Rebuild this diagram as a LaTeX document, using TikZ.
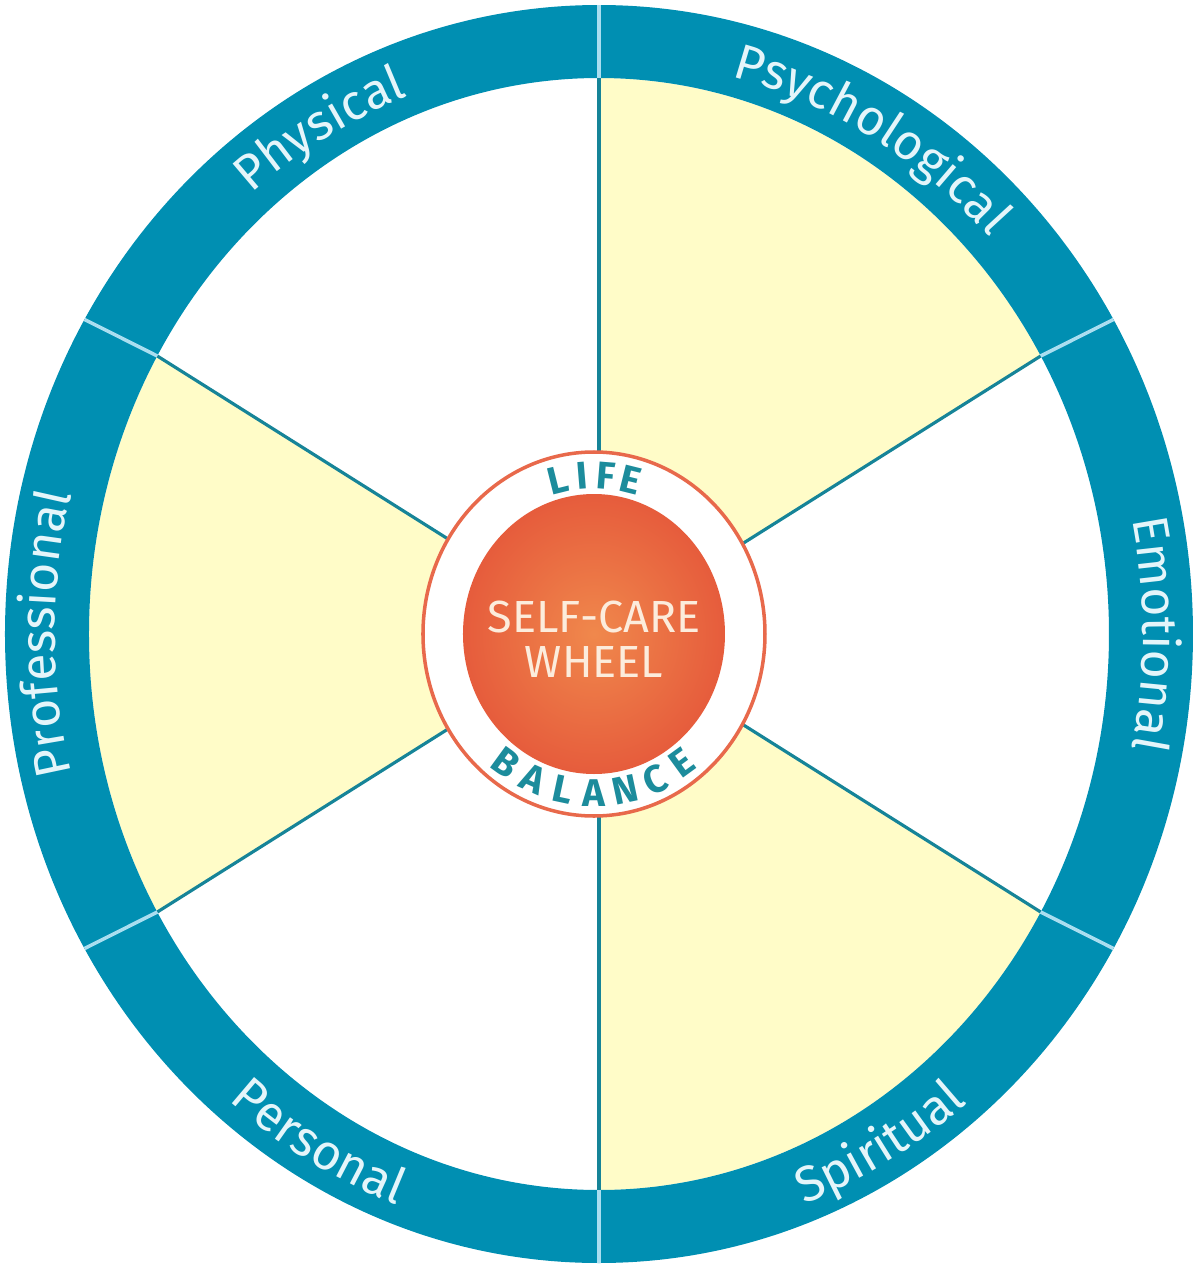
\documentclass[tikz,border=0pt]{standalone}
\usepackage{fontspec}
\setmainfont{Fira Sans}
\usetikzlibrary{decorations.text}

\definecolor{ringblue}{RGB}{0,143,178}
\definecolor{spokeblue}{RGB}{22,132,152}
\definecolor{sepblue}{RGB}{170,222,240}
\definecolor{paleyellow}{RGB}{255,252,200}
\definecolor{labelwhite}{RGB}{228,245,250}
\definecolor{hubred}{RGB}{230,92,60}
\definecolor{hubglow}{RGB}{240,136,76}
\definecolor{hubline}{RGB}{232,105,75}
\definecolor{hubtext}{RGB}{252,236,220}
\definecolor{arcteal}{RGB}{28,140,156}

\newcommand{\ringfont}{\fontsize{14.2pt}{14.2pt}\selectfont}

\begin{document}
\begin{tikzpicture}[
    spoke/.style = {spokeblue, line width=0.9pt},
    gap/.style = {sepblue, line width=1pt},
    ringlabel/.style = {
      decorate,
      decoration = {text along path, text align=center, text color=labelwhite}
    },
    arcletter/.style = {
      text = arcteal,
      font = \fontsize{11pt}{11pt}\selectfont\bfseries,
      inner sep = 0pt
    },
    hubtitle/.style = {
      text = hubtext,
      align = center,
      font = \fontsize{12.8pt}{12.8pt}\selectfont
    }
  ]
  \useasboundingbox (-5.99,-6.32) rectangle (5.97,6.34);
  \coordinate (O) at (0,0);

  % pale sectors
  \foreach \a in {30,150,270}
    \fill[paleyellow] (O) -- (\a:5.10 and 5.56)
      arc[start angle=\a, end angle=\a+60, x radius=5.10, y radius=5.56] -- cycle;

  \foreach \a in {30,90,...,330}
    \draw[spoke] (O) -- (\a:5.10 and 5.56);

  % rim
  \fill[ringblue, even odd rule] (O) ellipse[x radius=5.94, y radius=6.29]
    (O) ellipse[x radius=5.10, y radius=5.56];
  \foreach \a in {30,90,...,330}
    \draw[gap] (\a:5.10 and 5.56) -- (\a:5.94 and 6.29);

  % rim labels
  \path[ringlabel, decoration={text={|\ringfont|Psychological}}]
    (90:5.40 and 5.75) arc[start angle=90, end angle=30, x radius=5.40, y radius=5.75];
  \path[ringlabel, decoration={text={|\ringfont|Physical}}]
    (150:5.40 and 5.75) arc[start angle=150, end angle=90, x radius=5.40, y radius=5.75];
  \path[ringlabel, decoration={text={|\ringfont|Professional}}]
    (210:5.44 and 5.75) arc[start angle=210, end angle=150, x radius=5.44, y radius=5.75];
  \path[ringlabel, decoration={text={|\ringfont|Emotional}}]
    (30:5.44 and 5.75) arc[start angle=30, end angle=-30, x radius=5.44, y radius=5.75];
  \path[ringlabel, decoration={text={|\ringfont|Personal}}]
    (210:5.76 and 6.10) arc[start angle=210, end angle=270, x radius=5.76, y radius=6.10];
  \path[ringlabel, decoration={text={|\ringfont|Spiritual}}]
    (270:5.76 and 6.10) arc[start angle=270, end angle=330, x radius=5.76, y radius=6.10];

  % hub
  \begin{scope}[shift={(-0.05,0)}]
    \draw[hubline, line width=1pt, fill=white] (0,0) ellipse[x radius=1.71, y radius=1.82];
    \shade[inner color=hubglow, outer color=hubred] (0,0) ellipse[x radius=1.31, y radius=1.40];
    \node[hubtitle] (hub) at (0,-0.05) {SELF-CARE\\WHEEL};

    \foreach \ch [count=\i, evaluate=\i as \ang using 113.33-9.33*\i] in {L,I,F,E}
      \node[arcletter, rotate=\ang-90] (life\i) at (\ang:1.50 and 1.59) {\ch};
    \foreach \ch [count=\i, evaluate=\i as \ang using 222+12*\i] in {B,A,L,A,N,C,E}
      \node[arcletter, rotate=\ang+90] (balance\i) at (\ang:1.50 and 1.59) {\ch};
  \end{scope}
\end{tikzpicture}
\end{document}
